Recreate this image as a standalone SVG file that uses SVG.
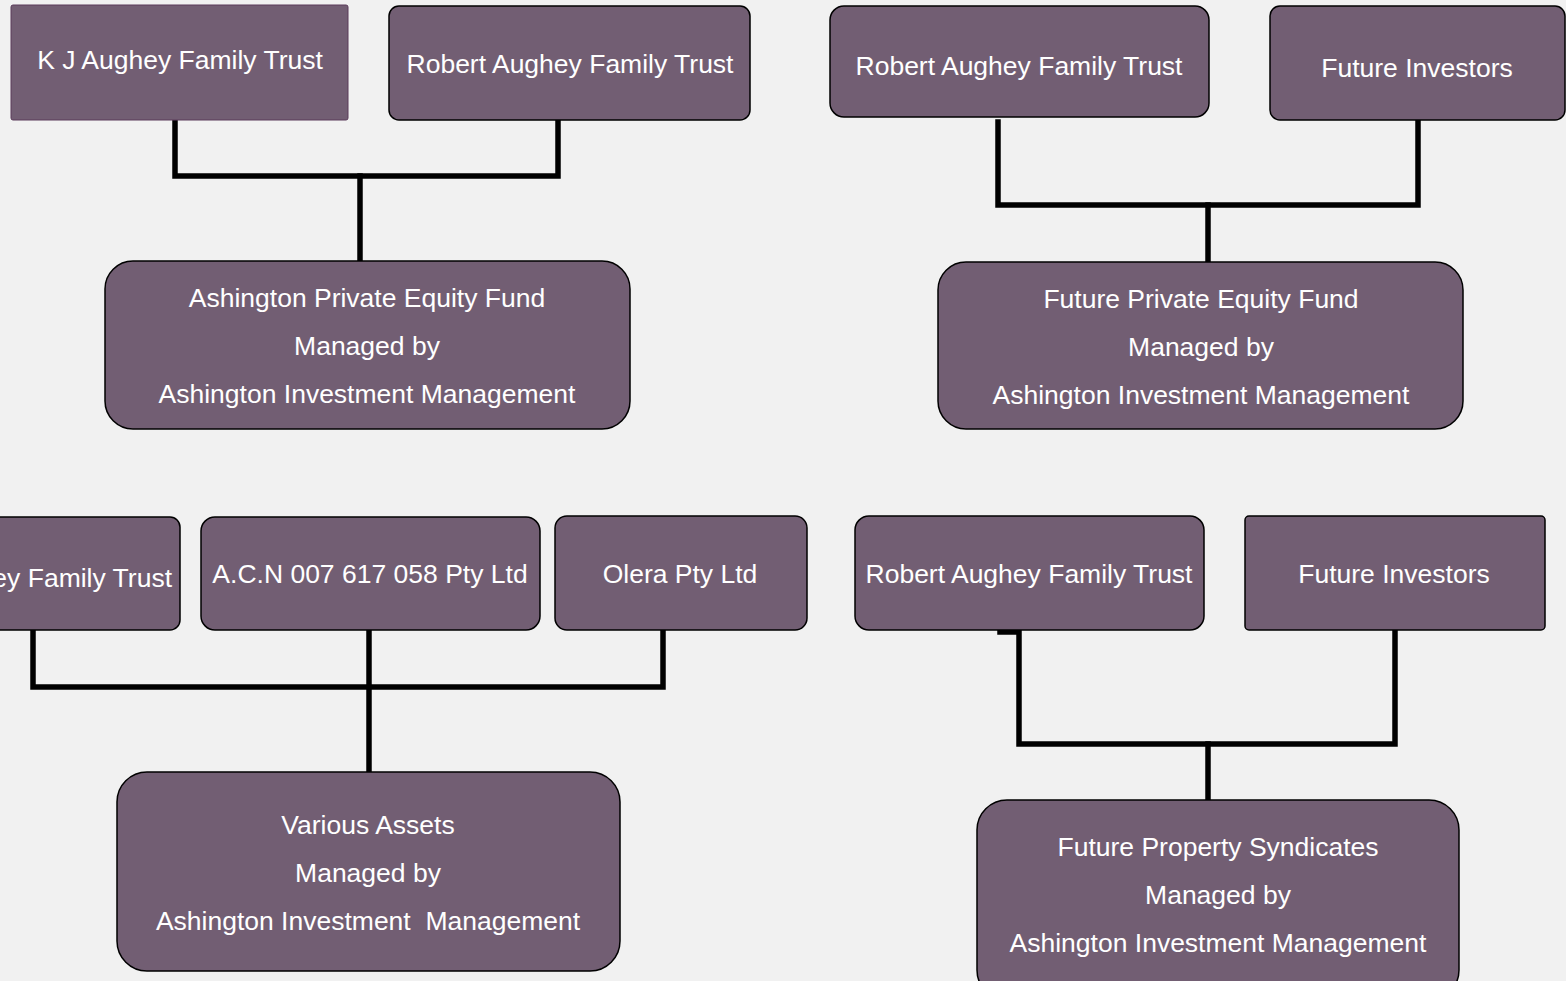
<svg xmlns="http://www.w3.org/2000/svg" width="1566" height="981" viewBox="0 0 1566 981">
<style>
.bg{fill:#f1f1f1}
.n{fill:#725e73;stroke:#000;stroke-width:1.5}
.n2{fill:#725e73;stroke:#5a3a5a;stroke-width:1}
.t{font-family:"Liberation Sans",Arial,sans-serif;font-size:26.5px;fill:#fff;text-anchor:middle;white-space:pre}
.c{fill:none;stroke:#000;stroke-width:5.5;stroke-linecap:square;stroke-linejoin:miter}
</style>
<rect class="bg" x="0" y="0" width="1566" height="981"/>
<g id="connectors">
<path class="c" d="M175,122 V176 H558 V122"/>
<path class="c" d="M360,176 V259"/>
<path class="c" d="M998,122 V205 H1418 V122"/>
<path class="c" d="M1208,205 V260"/>
<path class="c" d="M33,632 V687 H663 V632"/>
<path class="c" d="M369,632 V770"/>
<path class="c" d="M1000,632 H1019 V744 H1395 V632"/>
<path class="c" d="M1208,744 V798"/>
</g>
<g id="node-kj">
<rect class="n2" x="11" y="5" width="337" height="115" rx="2"/>
<text class="t" x="180" y="69">K J Aughey Family Trust</text>
</g>
<g id="node-robert-1">
<rect class="n" x="389" y="6" width="361" height="114" rx="10"/>
<text class="t" x="570" y="73">Robert Aughey Family Trust</text>
</g>
<g id="node-robert-2">
<rect class="n" x="830" y="6" width="379" height="111" rx="14"/>
<text class="t" x="1019" y="75">Robert Aughey Family Trust</text>
</g>
<g id="node-future-investors-1">
<rect class="n" x="1270" y="6" width="295" height="114" rx="10"/>
<text class="t" x="1417" y="77">Future Investors</text>
</g>
<g id="node-ashington-pef">
<rect class="n" x="105" y="261" width="525" height="168" rx="28"/>
<text class="t" x="367" y="307">Ashington Private Equity Fund</text>
<text class="t" x="367" y="355">Managed by</text>
<text class="t" x="367" y="403">Ashington Investment Management</text>
</g>
<g id="node-future-pef">
<rect class="n" x="938" y="262" width="525" height="167" rx="28"/>
<text class="t" x="1201" y="308">Future Private Equity Fund</text>
<text class="t" x="1201" y="356">Managed by</text>
<text class="t" x="1201" y="404">Ashington Investment Management</text>
</g>
<g id="node-trust-cut">
<rect class="n" x="-180" y="517" width="360" height="113" rx="10"/>
<text class="t" x="172" y="587" style="text-anchor:end">ey Family Trust</text>
</g>
<g id="node-acn">
<rect class="n" x="201" y="517" width="339" height="113" rx="14"/>
<text class="t" x="370" y="583">A.C.N 007 617 058 Pty Ltd</text>
</g>
<g id="node-olera">
<rect class="n" x="555" y="516" width="252" height="114" rx="12"/>
<text class="t" x="680" y="583">Olera Pty Ltd</text>
</g>
<g id="node-robert-3">
<rect class="n" x="855" y="516" width="349" height="114" rx="14"/>
<text class="t" x="1029" y="583">Robert Aughey Family Trust</text>
</g>
<g id="node-future-investors-2">
<rect class="n" x="1245" y="516" width="300" height="114" rx="4"/>
<text class="t" x="1394" y="583">Future Investors</text>
</g>
<g id="node-various-assets">
<rect class="n" x="117" y="772" width="503" height="199" rx="30"/>
<text class="t" x="368" y="834">Various Assets</text>
<text class="t" x="368" y="882">Managed by</text>
<text class="t" x="368" y="930">Ashington Investment  Management</text>
</g>
<g id="node-future-property">
<rect class="n" x="977" y="800" width="482" height="200" rx="30"/>
<text class="t" x="1218" y="856">Future Property Syndicates</text>
<text class="t" x="1218" y="904">Managed by</text>
<text class="t" x="1218" y="952">Ashington Investment Management</text>
</g>
</svg>
